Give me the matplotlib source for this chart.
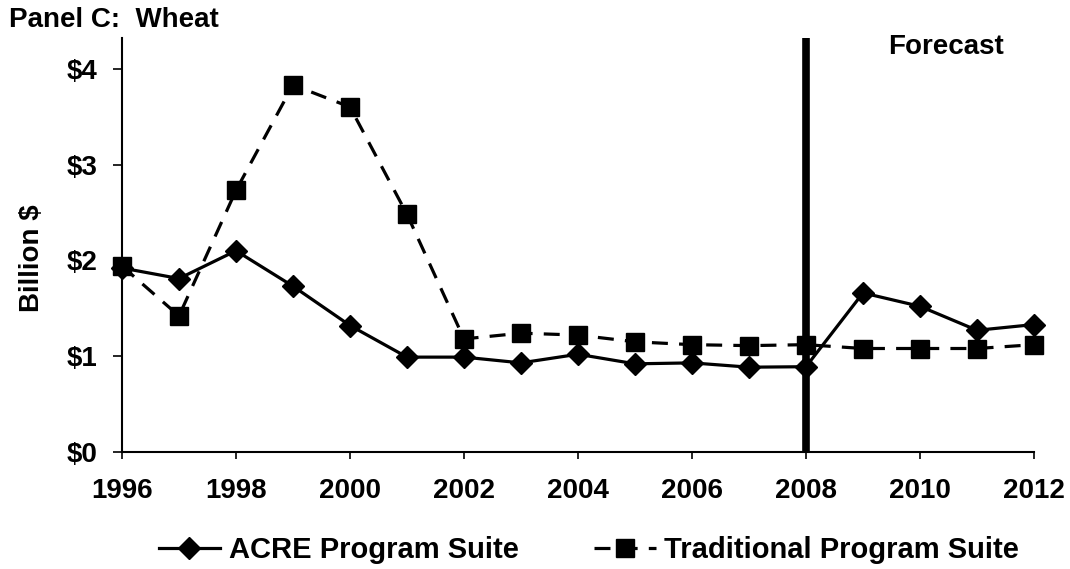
import matplotlib
matplotlib.use("Agg")
import matplotlib.pyplot as plt
from matplotlib.ticker import FuncFormatter

plt.rcParams['font.family'] = ['Liberation Sans', 'DejaVu Sans']
plt.rcParams['font.weight'] = 'bold'

years = list(range(1996, 2013))
acre = [1.92, 1.81, 2.10, 1.73, 1.32, 0.99, 0.99, 0.93, 1.02, 0.92, 0.93, 0.885, 0.89,
        1.66, 1.52, 1.27, 1.33]
traditional = [1.94, 1.42, 2.73, 3.83, 3.60, 2.48, 1.18, 1.24, 1.22, 1.15, 1.12, 1.11, 1.12,
               1.08, 1.08, 1.08, 1.12]
xticks = list(range(1996, 2013, 2))
yticks = [0, 1, 2, 3, 4]
forecast_year = 2008

fig = plt.figure(figsize=(10.70, 5.69), dpi=100)
ax = fig.add_axes([122/1070, 1 - 452/569, (1034-122)/1070, (452-38)/569])

ax.plot(years, acre, color='black', lw=2.3, marker='D', markersize=11,
        label='ACRE Program Suite', clip_on=False, zorder=3)
ax.plot(years, traditional, color='black', lw=2.3, ls=(0, (5, 3.5)), marker='s',
        markersize=12.5, label='Traditional Program Suite', clip_on=False, zorder=3)
ax.axvline(forecast_year, color='black', lw=5.5, zorder=4)

ax.set_xlim(1996, 2012)
ax.set_ylim(0, 4.32)
ax.set_xticks(xticks)
ax.set_yticks(yticks)
ax.yaxis.set_major_formatter(FuncFormatter(lambda v, p: f"${int(v)}"))
ax.tick_params(axis='y', direction='out', length=6.5, width=1.2, pad=11, labelsize=20)
ax.tick_params(axis='x', direction='out', length=5, width=1.2, pad=14, labelsize=20)
for s in ['top', 'right']:
    ax.spines[s].set_visible(False)
for s in ['left', 'bottom']:
    ax.spines[s].set_linewidth(1.5)

ax.text(2010.46, 4.15, 'Forecast', ha='center', va='baseline', fontsize=20,
        fontweight='bold')

fig.text(9/1070, 1 - 27/569, 'Panel C:  Wheat', ha='left', va='baseline',
         fontsize=20, fontweight='bold')
fig.text(32/1070, 1 - 258/569, 'Billion $', ha='center', va='center', rotation=90,
         fontsize=20, fontweight='bold')

fig.legend(loc='center', bbox_to_anchor=(589/1070, 1 - 550/569), ncol=2, frameon=False,
           fontsize=21, handlelength=2.1, handletextpad=0.3, columnspacing=2.6,
           borderpad=0, borderaxespad=0)

fig.savefig('out.png', dpi=100)
